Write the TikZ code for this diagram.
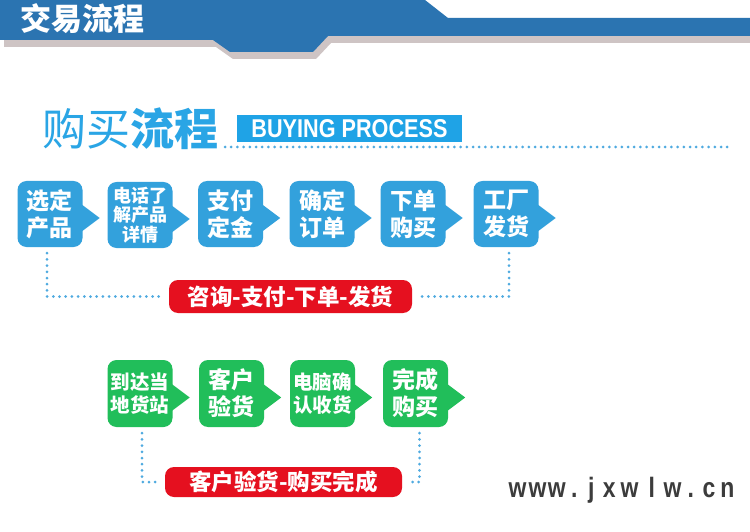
\documentclass[tikz,border=0pt]{standalone}
\usepackage{fontspec}
\usepackage{graphicx}
\usetikzlibrary{calc}
\setmainfont{Liberation Sans}
\newfontfamily\cjk{Noto Sans CJK SC}
\newfontfamily\wmfont{Liberation Sans}
\definecolor{hblue}{HTML}{2B74B1}
\definecolor{hshadow}{HTML}{CEC4C4}
\definecolor{tblue}{HTML}{2AA5E5}
\definecolor{bpblue}{HTML}{1FA3E6}
\definecolor{dotc}{HTML}{4FAAE0}
\definecolor{boxblue}{HTML}{33A1DC}
\definecolor{boxgreen}{HTML}{21BE5A}
\definecolor{pillred}{HTML}{E5101F}
\definecolor{wmgray}{HTML}{3C3C3C}
\newcommand{\wc}[2]{\makebox[#1pt][c]{\scalebox{0.82}[1]{#2}}}
\begin{document}
\begin{tikzpicture}[x=1pt,y=-1pt,
  stepblue/.style={fill=boxblue, rounded corners=9pt, minimum width=65, minimum height=66,
    inner sep=0pt, text=white, align=center},
  stepgreen/.style={fill=boxgreen, rounded corners=9pt, minimum width=65, minimum height=67,
    inner sep=0pt, text=white, align=center},
  bigtxt/.style={font=\cjk\bfseries\fontsize{23}{27}\selectfont},
  midtxt/.style={font=\cjk\bfseries\fontsize{19.5}{23.5}\selectfont},
  smalltxt/.style={font=\cjk\bfseries\fontsize{18}{19.5}\selectfont},
  pill/.style={fill=pillred, rounded corners=9pt, inner sep=0pt, text=white,
    font=\cjk\bfseries\fontsize{22.5}{24}\selectfont},
  dotline/.style={draw=dotc, line width=3pt, line cap=round, dash pattern=on 0pt off 6.2pt}
]
\useasboundingbox (0,0) rectangle (750,532);
\fill[white] (0,0) rectangle (750,532);

% header band
\fill[hshadow] (4,7) -- (428,7) -- (451,25) -- (750,25) -- (750,43) -- (331,43) -- (316,59)
  -- (233,59) -- (216,47) -- (4,47) -- cycle;
\fill[hblue] (0,0) -- (425,0) -- (448,18) -- (750,18) -- (750,36) -- (328,36) -- (313,52)
  -- (230,52) -- (213,40) -- (0,40) -- cycle;
\node[text=white, font=\cjk\bfseries\fontsize{31}{33}\selectfont] (ht) at (82,19) {交易流程};

% title
\node[text=tblue, inner sep=0pt] (t1) at (130,129)
  {\cjk\fontsize{44}{46}\selectfont 购买\bfseries 流程};
\node[fill=bpblue, minimum width=225, minimum height=27, inner sep=0pt, text=white] (bp)
  at (349.5,128.5) {\resizebox{196pt}{18pt}{\bfseries BUYING PROCESS}};
\coordinate (dl0) at (225,147);
\coordinate (dl1) at (728,147);
\draw[dotline] (dl0) -- (dl1);

% blue steps
\node[stepblue, bigtxt]   (b1) at (50,214)  {选定\\产品};
\node[stepblue, smalltxt] (b2) at (140,215) {电话了\\解产品\\详情};
\node[stepblue, bigtxt]   (b3) at (230.5,214) {支付\\定金};
\node[stepblue, bigtxt]   (b4) at (322,214) {确定\\订单};
\node[stepblue, bigtxt]   (b5) at (413,214) {下单\\购买};
\node[stepblue, bigtxt]   (b6) at (506,214) {工厂\\发货};
\foreach \n in {b1,b2,b3,b4,b5,b6}
  \fill[boxblue] ($(\n.east)+(-3,-11)$) -- ($(\n.east)+(17,4)$) -- ($(\n.east)+(-3,19)$) -- cycle;

\node[pill, minimum width=243, minimum height=33] (p1) at (290.5,296.5) {咨询-支付-下单-发货};
\draw[dotline] ([xshift=-3pt]b1.south) ++(0,6) |- ([xshift=-5pt]p1.west);
\draw[dotline] ([xshift=3pt]b6.south) ++(0,6) |- ([xshift=5pt]p1.east);

% green steps
\node[stepgreen, midtxt] (g1) at (140,393.5) {到达当\\地货站};
\node[stepgreen, bigtxt] (g2) at (231.5,393.5) {客户\\验货};
\node[stepgreen, midtxt] (g3) at (322.5,393.5) {电脑确\\认收货};
\node[stepgreen, bigtxt] (g4) at (415.5,393.5) {完成\\购买};
\foreach \n in {g1,g2,g3,g4}
  \fill[boxgreen] ($(\n.east)+(-3,-11)$) -- ($(\n.east)+(17,4)$) -- ($(\n.east)+(-3,19)$) -- cycle;

\node[pill, minimum width=237, minimum height=30] (p2) at (283.5,482) {客户验货-购买完成};
\draw[dotline] ([xshift=2pt]g1.south) ++(0,6) |- ([xshift=-5pt]p2.west);
\draw[dotline] ([xshift=4pt]g4.south) ++(0,6) |- ([xshift=5pt]p2.east);

% watermark
\node[anchor=base west, inner sep=0pt, text=wmgray,
  font=\wmfont\bfseries\fontsize{28}{30}\selectfont] (wm) at (507.3,497)
  {\wc{20}{w}\wc{20.2}{w}\wc{18.3}{w}\wc{16.7}{.}\wc{17.2}{j}\wc{18.8}{x}\wc{21.7}{w}\wc{22.8}{l}\wc{18.8}{w}\wc{17.5}{.}\wc{19}{c}\wc{18}{n}};
\end{tikzpicture}
\end{document}
